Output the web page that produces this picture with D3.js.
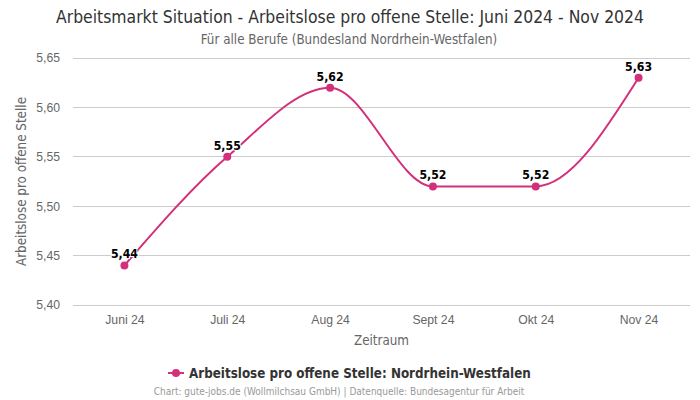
<!DOCTYPE html>
<html><head><meta charset="utf-8">
<script src="https://cdn.jsdelivr.net/npm/d3@7"></script>
<style>body{margin:0;background:#fff;} svg{display:block;font-family:"DejaVu Sans Condensed","DejaVu Sans",sans-serif;}</style>
</head><body>
<svg id="c" width="700" height="400"></svg>
<script>
const categories = ["Juni 24","Juli 24","Aug 24","Sept 24","Okt 24","Nov 24"];
const values = [5.44,5.55,5.62,5.52,5.52,5.63];
const yTicks = [5.40,5.45,5.50,5.55,5.60,5.65];
const seriesName = "Arbeitslose pro offene Stelle: Nordrhein-Westfalen";
const color = "#d42f7b";

const svg = d3.select("#c");
const m = {l:73, r:690, t:58, b:305};
const x = d3.scalePoint().domain(categories).range([m.l,m.r]).padding(0.5);
const y = d3.scaleLinear().domain([5.40,5.65]).range([m.b,m.t]);
const fmt = v => d3.format(".2f")(v).replace(".",",");

svg.append("text").attr("x",350).attr("y",23).attr("text-anchor","middle")
  .attr("font-size",17.4).attr("fill","#333").text("Arbeitsmarkt Situation - Arbeitslose pro offene Stelle: Juni 2024 - Nov 2024");
svg.append("text").attr("x",349).attr("y",44).attr("text-anchor","middle")
  .attr("font-size",13.3).attr("fill","#666").text("Für alle Berufe (Bundesland Nordrhein-Westfalen)");

// grid
svg.append("g").selectAll("line").data(yTicks).join("line")
  .attr("x1",m.l).attr("x2",m.r).attr("y1",d=>y(d)).attr("y2",d=>y(d))
  .attr("stroke","#ccc").attr("stroke-width",1).attr("shape-rendering","crispEdges");

const ya = svg.append("g").attr("transform",`translate(${m.l},0)`)
  .call(d3.axisLeft(y).tickValues(yTicks).tickFormat(fmt).tickSize(0).tickPadding(13));
ya.select(".domain").remove();
ya.selectAll("text").attr("font-size",12.2).attr("fill","#666").attr("font-family","inherit");

const xa = svg.append("g").attr("transform",`translate(0,${m.b})`)
  .call(d3.axisBottom(x).tickSize(0).tickPadding(10));
xa.select(".domain").remove();
xa.selectAll("text").attr("font-size",12.2).attr("fill","#666").attr("font-family","inherit");

svg.append("text").attr("x",(m.l+m.r)/2).attr("y",345).attr("text-anchor","middle")
  .attr("font-size",13.3).attr("fill","#666").text("Zeitraum");
svg.append("text").attr("transform",`translate(26,${(m.t+m.b)/2}) rotate(-90)`).attr("text-anchor","middle")
  .attr("font-size",13.3).attr("fill","#666").text("Arbeitslose pro offene Stelle");

const pts = categories.map((c,i)=>[x(c),y(values[i])]);
svg.append("path").attr("d",d3.line().curve(d3.curveMonotoneX)(pts))
  .attr("fill","none").attr("stroke",color).attr("stroke-width",2);
svg.append("g").selectAll("circle").data(pts).join("circle")
  .attr("cx",d=>d[0]).attr("cy",d=>d[1]).attr("r",4).attr("fill",color);
svg.append("g").selectAll("text").data(values).join("text")
  .attr("x",(d,i)=>x(categories[i])).attr("y",d=>y(d)-7).attr("text-anchor","middle")
  .attr("font-size",12.2).attr("font-weight","bold").attr("fill","#000")
  .attr("stroke","#fff").attr("stroke-width",2).attr("paint-order","stroke")
  .text(fmt);

// legend
const lg = svg.append("g");
lg.append("text").attr("x",189).attr("y",378).attr("font-size",13.3).attr("font-weight","bold")
  .attr("fill","#333").text(seriesName);
lg.append("line").attr("x1",168).attr("x2",184).attr("y1",373).attr("y2",373).attr("stroke",color).attr("stroke-width",2);
lg.append("circle").attr("cx",176).attr("cy",373).attr("r",4).attr("fill",color);

svg.append("text").attr("x",339).attr("y",395).attr("text-anchor","middle")
  .attr("font-size",10).attr("fill","#999").text("Chart: gute-jobs.de (Wollmilchsau GmbH) | Datenquelle: Bundesagentur für Arbeit");
</script>
</body></html>
